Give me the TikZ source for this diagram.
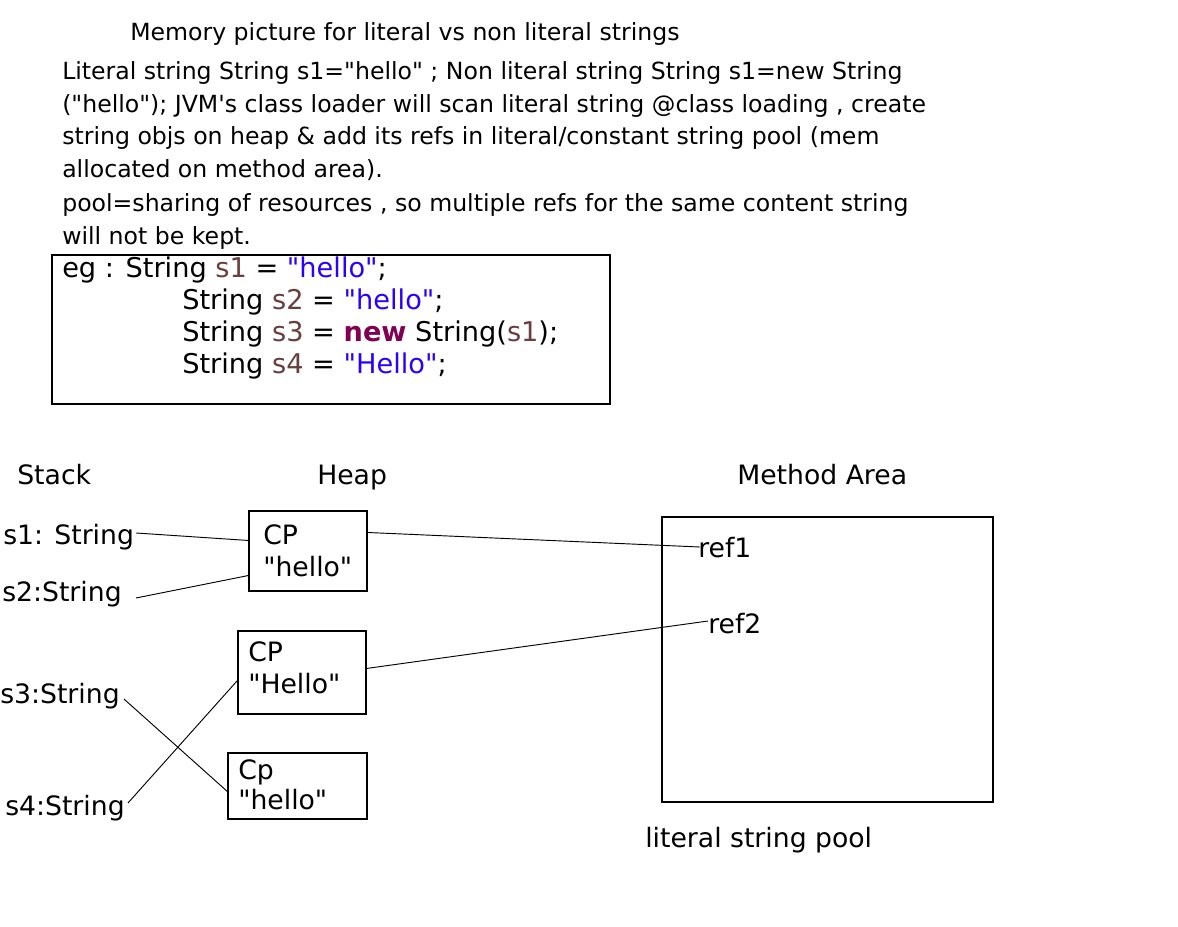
\documentclass[tikz,border=0pt]{standalone}
\usepackage{fontspec}
\newfontfamily\df{DejaVu Sans}
\usetikzlibrary{calc,fit}
\definecolor{jvar}{HTML}{6A3E3E}
\definecolor{jstr}{HTML}{2A00FF}
\definecolor{jkw}{HTML}{7F0055}
\begin{document}
\begin{tikzpicture}[x=0.75pt,y=-0.75pt,
  txt/.style={anchor=base west,inner sep=0pt,font=\df\fontsize{17.7}{21}\selectfont},
  lab/.style={anchor=base west,inner sep=0pt,font=\df\fontsize{20}{24}\selectfont},
  codet/.style={anchor=base west,inner sep=0pt,font=\df\fontsize{20.4}{24}\selectfont},
  box/.style={draw,line width=0.8pt,inner sep=0pt},
  conn/.style={line width=0.7pt}]
\useasboundingbox (0,0) rectangle (1178,926);

% title and description
\node[txt] (title) at (130,40) {Memory picture for literal vs non literal strings};
\node[txt] (p1) at (62,79) {Literal string String s1="hello" ; Non literal string String s1=new String};
\node[txt] (p2) at (62,112) {("hello"); JVM's class loader will scan literal string @class loading , create};
\node[txt] (p3) at (62,144) {string objs on heap \& add its refs in literal/constant string pool (mem};
\node[txt] (p4) at (62,177) {allocated on method area).};
\node[txt] (p5) at (62,211) {pool=sharing of resources , so multiple refs for the same content string};
\node[txt] (p6) at (62,244) {will not be kept.};

% code box
\node[box,fit={(52,255) (610,404)}] (codebox) {};
\node[codet] (c1) at (62,277) {eg : String {\color{jvar}s1} = {\color{jstr}"hello"};};
\node[codet] (c2) at (182,309) {String {\color{jvar}s2} = {\color{jstr}"hello"};};
\node[codet] (c3) at (182,341) {String {\color{jvar}s3} = {\bfseries\color{jkw}new} String({\color{jvar}s1});};
\node[codet] (c4) at (182,373) {String {\color{jvar}s4} = {\color{jstr}"Hello"};};

% headings
\node[lab] (stack) at (17,484) {Stack};
\node[lab] (heap) at (317,484) {Heap};
\node[lab] (method) at (737,484) {Method Area};

% stack variables
\node[lab] (s1) at (3,544) {s1: String};
\node[lab] (s2) at (2,601) {s2:String};
\node[lab] (s3) at (0,703) {s3:String};
\node[lab] (s4) at (5,815) {s4:String};

% heap objects
\node[box,fit={(249,511) (367,591)}] (box1) {};
\node[lab] (b1a) at (263,544) {CP};
\node[lab] (b1b) at (263,576) {"hello"};
\node[box,fit={(238,631) (366,714)}] (box2) {};
\node[lab] (b2a) at (248,661) {CP};
\node[lab] (b2b) at (248,693) {"Hello"};
\node[box,fit={(228,753) (367,819)}] (box3) {};
\node[lab] (b3a) at (238,779) {Cp};
\node[lab] (b3b) at (238,809) {"hello"};

% method area
\node[box,fit={(662,517) (993,802)}] (mabox) {};
\node[lab] (ref1) at (698,557) {ref1};
\node[lab] (ref2) at (708,633) {ref2};
\node[lab] (pool) at (645,847) {literal string pool};

% connectors
\draw[conn] ($(s1.base east)+(2,-11)$) -- ($(box1.north west)+(0,30)$);
\draw[conn] ($(s2.base east)+(14,-3)$) -- ($(box1.north west)+(0,65)$);
\draw[conn] ($(box1.north east)+(0,22)$) -- ($(ref1.base west)+(2,-10)$);
\draw[conn] ($(box2.north east)+(0,38)$) -- ($(ref2.base west)+(0,-12)$);
\draw[conn] ($(s3.base east)+(4,-4)$) -- ($(box3.north west)+(1,40)$);
\draw[conn] ($(s4.base east)+(3,-12)$) -- ($(box2.north west)+(0,50)$);
\end{tikzpicture}
\end{document}
